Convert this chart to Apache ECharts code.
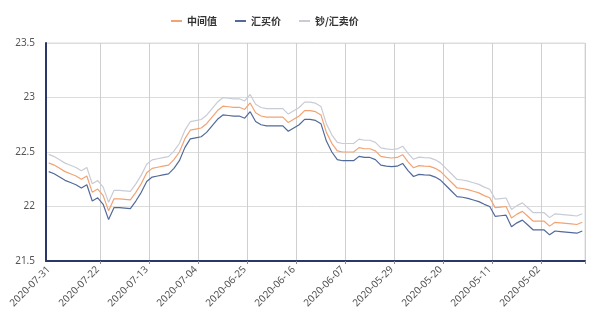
<!DOCTYPE html>
<html>
<head>
<meta charset="utf-8">
<script src="https://cdn.jsdelivr.net/npm/echarts@6/dist/echarts.min.js"></script>
<style>
html,body{margin:0;padding:0;background:#fff;}
#chart{width:600px;height:318px;}
</style>
</head>
<body>
<div id="chart"></div>
<script>
var dates = [
'2020-07-31','2020-07-30','2020-07-29','2020-07-28','2020-07-27','2020-07-26','2020-07-25','2020-07-24','2020-07-23','2020-07-22',
'2020-07-21','2020-07-20','2020-07-19','2020-07-18','2020-07-17','2020-07-16','2020-07-15','2020-07-14','2020-07-13','2020-07-12',
'2020-07-11','2020-07-10','2020-07-09','2020-07-08','2020-07-07','2020-07-06','2020-07-05','2020-07-04','2020-07-03','2020-07-02',
'2020-07-01','2020-06-30','2020-06-29','2020-06-28','2020-06-27','2020-06-26','2020-06-25','2020-06-24','2020-06-23','2020-06-22',
'2020-06-21','2020-06-20','2020-06-19','2020-06-18','2020-06-17','2020-06-16','2020-06-15','2020-06-14','2020-06-13','2020-06-12',
'2020-06-11','2020-06-10','2020-06-09','2020-06-08','2020-06-07','2020-06-06','2020-06-05','2020-06-04','2020-06-03','2020-06-02',
'2020-06-01','2020-05-31','2020-05-30','2020-05-29','2020-05-28','2020-05-27','2020-05-26','2020-05-25','2020-05-24','2020-05-23',
'2020-05-22','2020-05-21','2020-05-20','2020-05-19','2020-05-18','2020-05-17','2020-05-16','2020-05-15','2020-05-14','2020-05-13',
'2020-05-12','2020-05-11','2020-05-10','2020-05-09','2020-05-08','2020-05-07','2020-05-06','2020-05-05','2020-05-04','2020-05-03',
'2020-05-02','2020-05-01','2020-04-30','2020-04-29','2020-04-28','2020-04-27','2020-04-26','2020-04-25','2020-04-24'
];

var seriesNames = ['中间值', '汇买价', '钞/汇卖价'];

var midValues = [
22.40,22.38,22.35,22.32,22.30,22.28,22.25,22.28,22.13,22.16,
22.10,21.96,22.07,22.07,22.065,22.06,22.13,22.21,22.31,22.35,
22.36,22.37,22.38,22.43,22.50,22.62,22.70,22.71,22.72,22.76,
22.82,22.88,22.92,22.915,22.91,22.91,22.89,22.95,22.86,22.83,
22.82,22.82,22.82,22.82,22.77,22.80,22.83,22.88,22.88,22.87,
22.84,22.68,22.58,22.51,22.50,22.50,22.50,22.54,22.53,22.53,
22.51,22.46,22.45,22.445,22.45,22.475,22.41,22.355,22.375,22.37,
22.368,22.35,22.32,22.27,22.22,22.17,22.165,22.155,22.14,22.125,
22.10,22.08,21.99,21.995,22.00,21.895,21.93,21.955,21.91,21.865,
21.865,21.865,21.82,21.855,21.85,21.845,21.84,21.835,21.855
];

var buyValues = [
22.32,22.30,22.27,22.24,22.22,22.20,22.17,22.20,22.05,22.08,
22.02,21.88,21.99,21.99,21.985,21.98,22.05,22.13,22.23,22.27,
22.28,22.29,22.30,22.35,22.42,22.54,22.62,22.63,22.64,22.68,
22.74,22.80,22.84,22.835,22.83,22.83,22.81,22.87,22.78,22.75,
22.74,22.74,22.74,22.74,22.69,22.72,22.75,22.80,22.80,22.79,
22.76,22.60,22.50,22.43,22.42,22.42,22.42,22.46,22.45,22.45,
22.43,22.38,22.37,22.365,22.37,22.395,22.33,22.275,22.295,22.29,
22.288,22.27,22.24,22.19,22.14,22.09,22.085,22.075,22.06,22.045,
22.02,22.00,21.91,21.915,21.92,21.815,21.85,21.875,21.83,21.785,
21.785,21.785,21.74,21.775,21.77,21.765,21.76,21.755,21.775
];

var sellValues = [
22.478,22.458,22.428,22.398,22.378,22.358,22.328,22.358,22.208,22.238,
22.178,22.038,22.148,22.148,22.143,22.138,22.208,22.288,22.388,22.428,
22.438,22.448,22.458,22.508,22.578,22.698,22.778,22.788,22.798,22.838,
22.898,22.958,22.998,22.993,22.988,22.988,22.968,23.028,22.938,22.908,
22.898,22.898,22.898,22.898,22.848,22.878,22.908,22.958,22.958,22.948,
22.918,22.758,22.658,22.588,22.578,22.578,22.578,22.618,22.608,22.608,
22.588,22.538,22.528,22.523,22.528,22.553,22.488,22.433,22.453,22.448,
22.446,22.428,22.398,22.348,22.298,22.248,22.243,22.233,22.218,22.203,
22.178,22.158,22.068,22.073,22.078,21.973,22.008,22.033,21.988,21.943,
21.943,21.943,21.898,21.933,21.928,21.923,21.918,21.913,21.933
];

var chart = echarts.init(document.getElementById('chart'), null, {renderer: 'canvas'});

function labelShown(i) { return i % 9 === 0; }
function tickShown(i) { return i > 1 && i % 9 === 1; }

var option = {
  animation: false,
  textStyle: { fontFamily: "'Noto Sans', 'Noto Sans CJK SC', sans-serif" },
  color: ['#f2a373', '#52699a', '#c9ccd6'],
  legend: {
    data: seriesNames,
    left: 166,
    top: 11,
    icon: 'rect',
    itemWidth: 11,
    itemHeight: 2,
    itemGap: 18,
    textStyle: { fontSize: 10, color: '#333', fontWeight: 'bold', fontFamily: "'Noto Sans CJK SC', sans-serif" }
  },
  grid: {
    left: 46, right: 15, top: 43, bottom: 57,
    show: true, borderColor: '#dcdcdc', borderWidth: 1
  },
  xAxis: {
    type: 'category',
    boundaryGap: true,
    data: dates,
    axisLine: { lineStyle: { color: '#2b3768', width: 2 } },
    axisTick: { show: true, interval: function (i) { return tickShown(i); }, length: 3, lineStyle: { color: '#888' } },
    axisLabel: {
      interval: function (i) { return labelShown(i); },
      rotate: 45,
      fontSize: 10,
      color: '#555',
      margin: 7
    },
    splitLine: { show: true, interval: function (i) { return tickShown(i); }, lineStyle: { color: '#cfcfcf', width: 1 } }
  },
  yAxis: {
    type: 'value',
    min: 21.5,
    max: 23.5,
    interval: 0.5,
    axisLine: { show: true, lineStyle: { color: '#2b3768', width: 2 } },
    axisTick: { show: false },
    axisLabel: { fontSize: 10, color: '#555', margin: 11 },
    splitLine: { show: true, lineStyle: { color: '#dcdcdc', width: 1 } }
  },
  series: [
    { name: seriesNames[0], type: 'line', data: midValues, symbol: 'none', showSymbol: false, lineStyle: { width: 1.2 } },
    { name: seriesNames[1], type: 'line', data: buyValues, symbol: 'none', showSymbol: false, lineStyle: { width: 1.2 } },
    { name: seriesNames[2], type: 'line', data: sellValues, symbol: 'none', showSymbol: false, lineStyle: { width: 1.2 } }
  ]
};
chart.setOption(option);
</script>
</body>
</html>
